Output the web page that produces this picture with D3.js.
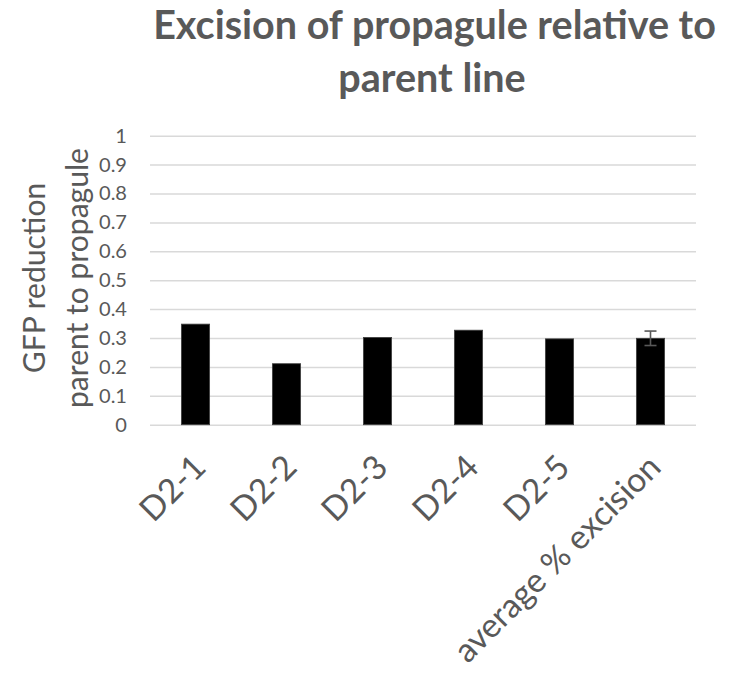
<!DOCTYPE html>
<html><head><meta charset="utf-8">
<script src="https://cdn.jsdelivr.net/npm/d3@7"></script>
<style>body{margin:0;background:#fff}svg{display:block}</style>
</head><body>
<script>
const categories = ["D2-1","D2-2","D2-3","D2-4","D2-5","average % excision"];
const values = [0.348, 0.211, 0.302, 0.327, 0.297, 0.299];
const errors = [null, null, null, null, null, 0.025];
const yTicks = [0,0.1,0.2,0.3,0.4,0.5,0.6,0.7,0.8,0.9,1];
const titleLines = ["Excision of propagule relative to","parent line"];
const yTitleLines = ["GFP reduction","parent to propagule"];

const W = 732, H = 674;
const font = "Lato, 'Open Sans', sans-serif";
const grey = "#595959";
const svg = d3.select("body").append("svg").attr("width", W).attr("height", H);
svg.append("rect").attr("width", W).attr("height", H).attr("fill", "#fff");

// helper: font size so that text has target width
function fitSize(text, target, weight) {
  const t = svg.append("text").attr("font-family", font).attr("font-size", 100)
    .attr("font-weight", weight || "normal").text(text);
  const w = t.node().getComputedTextLength();
  t.remove();
  return 100 * target / w;
}

const m = {left:150, right:36, top:135.7, bottom:249.3};
const x = d3.scaleBand().domain(categories).range([m.left, W - m.right]).paddingInner(0.69).paddingOuter(0.345);
const y = d3.scaleLinear().domain([0,1]).range([H - m.bottom, m.top]);

// gridlines + tick labels
const tickFs = fitSize("0.9", 28);
const yAxis = d3.axisLeft(y).tickValues(yTicks).tickSize(-(W - m.left - m.right)).tickPadding(23)
  .tickFormat(d => String(+d.toFixed(1)));
const gy = svg.append("g").attr("transform", `translate(${m.left},0)`).call(yAxis);
gy.select(".domain").remove();
gy.selectAll(".tick line").attr("stroke", "#d9d9d9").attr("stroke-width", 1.5);
gy.selectAll(".tick text").attr("fill", grey).attr("font-family", font).attr("font-size", tickFs);

// bars
svg.append("g").selectAll("rect").data(categories).join("rect")
  .attr("x", d => x(d)).attr("width", x.bandwidth())
  .attr("y", (d,i) => y(values[i])).attr("height", (d,i) => y(0) - y(values[i]))
  .attr("fill", "#000").attr("stroke", "#404040").attr("stroke-width", 0.8);

// error bars
const eg = svg.append("g").attr("stroke", grey).attr("stroke-width", 1.6);
categories.forEach((c,i) => {
  if (errors[i] == null) return;
  const cx = x(c) + x.bandwidth()/2;
  const y1 = y(values[i] + errors[i]), y2 = y(values[i] - errors[i]);
  eg.append("line").attr("x1", cx).attr("x2", cx).attr("y1", y1).attr("y2", y2);
  eg.append("line").attr("x1", cx-6).attr("x2", cx+6).attr("y1", y1).attr("y2", y1);
  eg.append("line").attr("x1", cx-6).attr("x2", cx+6).attr("y1", y2).attr("y2", y2);
});

// x labels rotated
const xFs = fitSize(categories[categories.length-1], 276);
const off = 0.707 * 0.6 * xFs;
const xAxis = d3.axisBottom(x).tickSize(0).tickPadding(0);
const gx = svg.append("g").attr("transform", `translate(0,${y(0)})`).call(xAxis);
gx.select(".domain").remove();
gx.selectAll(".tick text")
  .attr("fill", grey).attr("font-family", font).attr("font-size", xFs)
  .attr("text-anchor", "end").attr("dy", 0).attr("y", 0)
  .attr("transform", `translate(${-2 + off},${455 - y(0) + off}) rotate(-45)`);

// y title
const ytFs = fitSize(yTitleLines[1], 260);
const yt = svg.append("text").attr("transform", "translate(0,278) rotate(-90)")
  .attr("text-anchor", "middle").attr("fill", grey).attr("font-family", font).attr("font-size", ytFs);
yTitleLines.forEach((t,i) => yt.append("tspan").attr("x", 0).attr("y", i === 0 ? 45 : 88).text(t));

// title
const titleFs = fitSize(titleLines[0], 563, "bold");
const tt = svg.append("g").attr("fill", grey).attr("font-family", font).attr("font-weight", "bold")
  .attr("font-size", titleFs).attr("text-anchor", "middle");
tt.append("text").attr("x", 434.5).attr("y", 39).text(titleLines[0]);
tt.append("text").attr("x", 432).attr("y", 92).text(titleLines[1]);
</script>
</body></html>
